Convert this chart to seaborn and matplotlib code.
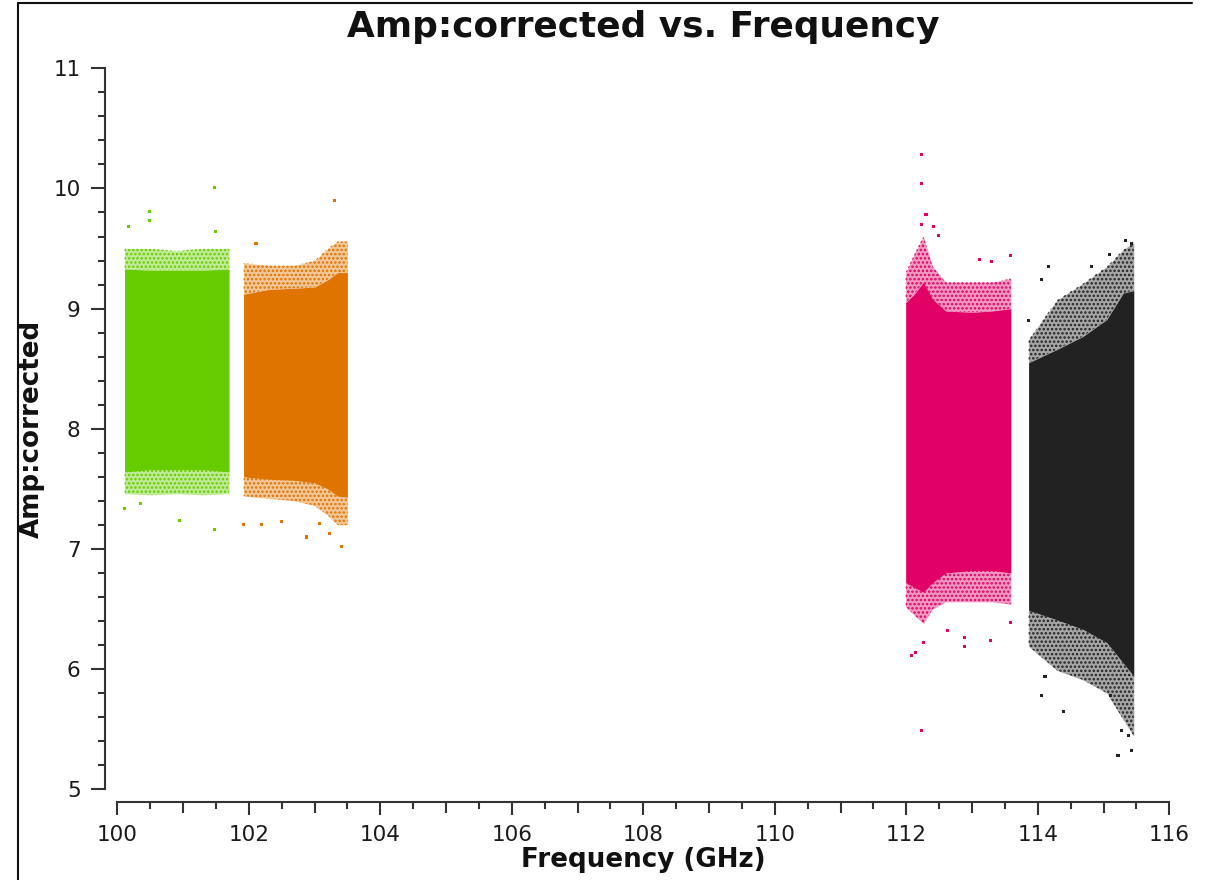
import numpy as np
import pandas as pd
import matplotlib
matplotlib.use("Agg")
import matplotlib.pyplot as plt
import seaborn as sns
from matplotlib.ticker import FixedLocator, MultipleLocator

sns.set_theme(style="white")
plt.rcParams['font.family'] = ['DejaVu Sans']
plt.rcParams['hatch.linewidth'] = 1.2

# ---- spectral window 0 (green) ----
spw0_freq = [100.11, 100.50, 100.90, 101.30, 101.70]
spw0_hi_outer = [9.50, 9.50, 9.48, 9.50, 9.50]
spw0_hi_core = [9.33, 9.32, 9.32, 9.32, 9.33]
spw0_lo_core = [7.64, 7.66, 7.66, 7.66, 7.64]
spw0_lo_outer = [7.46, 7.45, 7.46, 7.45, 7.46]
spw0_out_f = [100.49, 100.49, 101.48, 100.17, 101.49, 100.11, 100.94, 101.48, 100.35]
spw0_out_a = [9.81, 9.73, 10.01, 9.68, 9.64, 7.34, 7.24, 7.16, 7.38]

# ---- spectral window 1 (orange) ----
spw1_freq = [101.92, 102.30, 102.70, 103.00, 103.20, 103.35, 103.50]
spw1_hi_outer = [9.38, 9.36, 9.36, 9.40, 9.50, 9.56, 9.56]
spw1_hi_core = [9.12, 9.16, 9.17, 9.18, 9.24, 9.30, 9.30]
spw1_lo_core = [7.60, 7.58, 7.57, 7.55, 7.50, 7.44, 7.43]
spw1_lo_outer = [7.44, 7.42, 7.40, 7.36, 7.28, 7.20, 7.20]
spw1_out_f = [103.31, 102.11, 103.41, 102.88, 101.92, 102.50, 102.20, 103.08, 103.23]
spw1_out_a = [9.90, 9.54, 7.02, 7.10, 7.20, 7.23, 7.20, 7.21, 7.13]

# ---- spectral window 2 (magenta) ----
spw2_freq = [111.99, 112.12, 112.26, 112.40, 112.60, 113.00, 113.30, 113.59]
spw2_hi_outer = [9.30, 9.45, 9.60, 9.35, 9.22, 9.22, 9.22, 9.25]
spw2_hi_core = [9.05, 9.12, 9.22, 9.08, 8.98, 8.97, 8.98, 9.00]
spw2_lo_core = [6.72, 6.68, 6.64, 6.72, 6.80, 6.82, 6.82, 6.80]
spw2_lo_outer = [6.52, 6.45, 6.38, 6.50, 6.56, 6.56, 6.56, 6.54]
spw2_out_f = [112.23, 112.23, 112.30, 112.23, 112.41, 112.49, 113.12, 113.29, 113.58,
              112.23, 112.08, 112.14, 112.26, 112.88, 112.88, 113.28, 112.62, 113.58]
spw2_out_a = [10.28, 10.04, 9.78, 9.70, 9.68, 9.61, 9.41, 9.39, 9.44,
              5.49, 6.11, 6.14, 6.22, 6.19, 6.26, 6.24, 6.32, 6.39]

# ---- spectral window 3 (black) ----
spw3_freq = [113.86, 114.29, 114.69, 115.05, 115.30, 115.46]
spw3_hi_outer = [8.74, 9.07, 9.21, 9.35, 9.49, 9.55]
spw3_hi_core = [8.55, 8.66, 8.77, 8.91, 9.13, 9.15]
spw3_lo_core = [6.49, 6.41, 6.33, 6.22, 6.05, 5.94]
spw3_lo_outer = [6.19, 5.99, 5.91, 5.80, 5.58, 5.44]
spw3_out_f = [114.16, 115.33, 115.43, 115.09, 113.86, 114.06, 114.81,
              115.22, 115.43, 114.39, 114.06, 114.11, 115.27, 115.38, 115.10]
spw3_out_a = [9.35, 9.57, 9.54, 9.45, 8.90, 9.24, 9.35,
              5.28, 5.32, 5.65, 5.78, 5.94, 5.49, 5.45, 5.78]

spw_colors = ["#66cc00", "#e07400", "#e00066", "#222222"]

windows = [
    (spw0_freq, spw0_hi_outer, spw0_hi_core, spw0_lo_core, spw0_lo_outer, spw0_out_f, spw0_out_a),
    (spw1_freq, spw1_hi_outer, spw1_hi_core, spw1_lo_core, spw1_lo_outer, spw1_out_f, spw1_out_a),
    (spw2_freq, spw2_hi_outer, spw2_hi_core, spw2_lo_core, spw2_lo_outer, spw2_out_f, spw2_out_a),
    (spw3_freq, spw3_hi_outer, spw3_hi_core, spw3_lo_core, spw3_lo_outer, spw3_out_f, spw3_out_a),
]

fig = plt.figure(figsize=(12.09, 8.80), dpi=100)
ax = fig.add_axes([0.09702, 0.10307, 0.87014, 0.81932])

outliers = []
for i, (f, hio, hic, loc, loo, of, oa) in enumerate(windows):
    c = spw_colors[i]
    # sparse fringe of scattered points above and below the dense core
    for a, b in ((hic, hio), (loo, loc)):
        ax.fill_between(f, a, b, color=c, alpha=0.40, linewidth=0)
        ax.fill_between(f, a, b, facecolor="none", edgecolor=c, hatch="....",
                        linewidth=0)
    ax.fill_between(f, loc, hic, color=c, linewidth=0)
    outliers.append(pd.DataFrame({"freq": of, "amp": oa, "spw": i}))

pts = pd.concat(outliers, ignore_index=True)
sns.scatterplot(data=pts, x="freq", y="amp", hue="spw", palette=spw_colors,
                marker="s", s=5, linewidth=0, legend=False, ax=ax)

ax.set_xlim(100, 116)
ax.set_ylim(5, 11)

axis_col = "#333333"
for side in ("top", "right"):
    ax.spines[side].set_visible(False)
for side in ("left", "bottom"):
    ax.spines[side].set_position(("outward", 8.9))
    ax.spines[side].set_linewidth(1.5)
    ax.spines[side].set_color(axis_col)

ax.xaxis.set_major_locator(MultipleLocator(2))
ax.xaxis.set_minor_locator(FixedLocator(np.arange(100.5, 116, 1.0)))
ax.yaxis.set_major_locator(MultipleLocator(1))
ax.yaxis.set_minor_locator(MultipleLocator(0.2))

ax.tick_params(axis="x", which="major", direction="out", length=9.4, width=1.5,
               color=axis_col, labelsize=15.5, labelcolor="#1a1a1a", pad=7.2,
               bottom=True)
ax.tick_params(axis="x", which="minor", direction="out", length=5.0, width=1.5,
               color=axis_col, bottom=True)
ax.tick_params(axis="y", which="major", direction="out", length=10.0, width=1.5,
               color=axis_col, labelsize=15.5, labelcolor="#1a1a1a", pad=7.5,
               left=True)
ax.tick_params(axis="y", which="minor", direction="out", length=5.0, width=1.5,
               color=axis_col, left=True)

# intermediate ticks at odd GHz
sec = ax.secondary_xaxis(-8.9 / 72 * 100 / 721.0)
sec.set_xticks(np.arange(101, 116, 2))
sec.set_xticklabels([])
sec.tick_params(axis="x", direction="out", length=7.7, width=1.5, color=axis_col)
for sp in sec.spines.values():
    sp.set_visible(False)

ax.grid(False)
ax.set_title("Amp:corrected vs. Frequency", fontsize=25.8, fontweight="bold",
             color="#111111", pad=22.5)
ax.set_xlabel("Frequency (GHz)", fontsize=18.8, fontweight="bold", color="#111111",
              labelpad=2.0)
ax.set_ylabel("Amp:corrected", fontsize=18.8, fontweight="bold", color="#111111",
              labelpad=6)

# widget frame lines along the top and left edges
fig.add_artist(plt.Line2D([18 / 1209, 1192 / 1209], [1 - 3 / 880, 1 - 3 / 880],
                          transform=fig.transFigure, color="#111111", linewidth=1.5))
fig.add_artist(plt.Line2D([18 / 1209, 18 / 1209], [0, 1 - 3 / 880],
                          transform=fig.transFigure, color="#111111", linewidth=1.5))

fig.savefig("out.png", dpi=100)
